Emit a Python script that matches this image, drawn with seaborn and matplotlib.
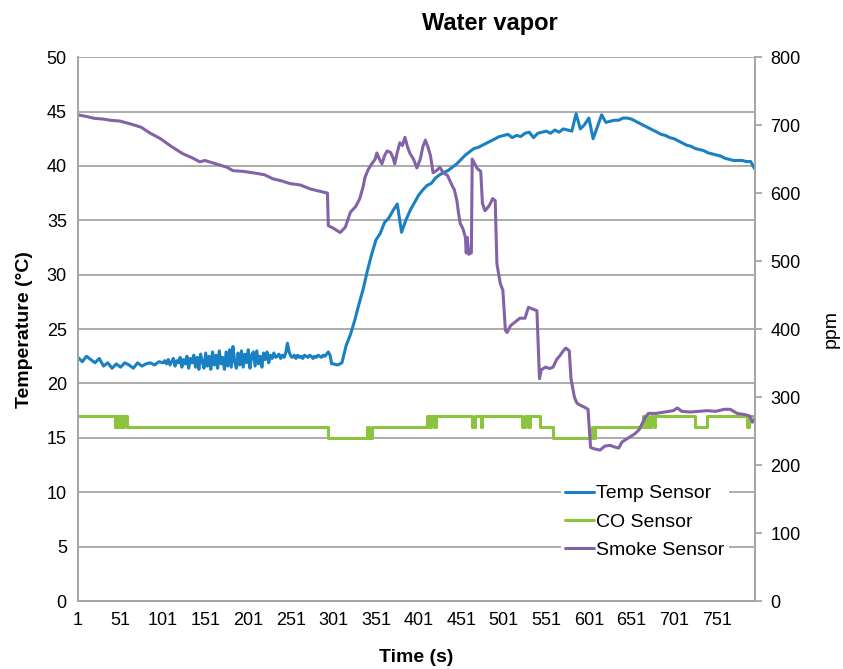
import numpy as np
import pandas as pd
import matplotlib
matplotlib.use("Agg")
import matplotlib.pyplot as plt
import seaborn as sns

# --- datos ---
# temperatura (°C): cada 5 s hasta 96, cada 2 s en el tramo ruidoso, cada 5 s desde 301
temp_t = np.concatenate([np.arange(1, 100, 5), np.arange(101, 300, 2), np.arange(301, 797, 5)])
temp_c = [
    # t 1..96
    22.4, 22.0, 22.5, 22.2, 21.9, 22.3, 21.6, 21.9, 21.4, 21.8,
    21.5, 21.9, 21.7, 21.4, 21.9, 21.6, 21.8, 21.9, 21.7, 22.0,
    # t 101..299
    21.9, 22.1, 21.8, 22.2, 21.7, 22.0, 22.3, 21.6, 22.1, 21.9,
    22.4, 21.5, 22.2, 21.8, 22.5, 21.4, 22.3, 21.9, 22.6, 21.5,
    22.4, 21.3, 22.7, 22.0, 21.4, 22.8, 21.6, 22.5, 21.3, 22.9,
    21.7, 22.6, 21.4, 23.0, 21.8, 22.4, 21.3, 22.9, 21.6, 23.1,
    21.5, 23.4, 22.0, 21.4, 22.8, 21.7, 23.0, 21.5, 22.7, 21.9,
    23.1, 21.4, 22.6, 22.9, 21.6, 23.0, 21.8, 22.5, 21.5, 22.8,
    22.2, 22.9, 21.9, 22.6, 22.3, 22.8, 22.4, 22.5, 22.7, 22.3,
    22.6, 22.4, 22.8, 23.7, 22.9, 22.5, 22.4, 22.6, 22.3, 22.6,
    22.4, 22.5, 22.3, 22.6, 22.5, 22.4, 22.6, 22.5, 22.3, 22.5,
    22.4, 22.6, 22.5, 22.4, 22.6, 22.5, 22.7, 22.9, 22.6, 21.8,
    # t 301..796
    21.8, 21.7, 21.9, 23.5, 24.5, 25.8, 27.3, 28.7, 30.4, 31.9,
    33.2, 33.8, 34.8, 35.2, 35.9, 36.5, 33.9, 35.0, 35.9, 36.6,
    37.3, 37.8, 38.2, 38.4, 38.9, 39.2, 39.4, 39.6, 39.9, 40.2,
    40.6, 41.0, 41.3, 41.6, 41.7, 41.9, 42.1, 42.3, 42.5, 42.7,
    42.8, 42.9, 42.6, 42.8, 42.7, 43.0, 43.1, 42.6, 43.0, 43.1,
    43.2, 43.0, 43.3, 43.1, 43.4, 43.3, 43.2, 44.8, 43.4, 43.8,
    44.4, 42.5, 43.6, 44.7, 44.0, 44.1, 44.2, 44.2, 44.4, 44.4,
    44.3, 44.1, 43.9, 43.7, 43.5, 43.3, 43.1, 42.9, 42.8, 42.6,
    42.5, 42.3, 42.1, 41.9, 41.8, 41.6, 41.5, 41.4, 41.2, 41.1,
    41.0, 40.9, 40.7, 40.6, 40.5, 40.5, 40.5, 40.4, 40.4, 39.7,
]

# sensor CO: instantes de cambio y valor (escala izquierda)
co_t = [1, 44, 46, 48, 50, 53, 55, 58, 62, 295, 341, 343, 346, 411, 413, 416,
        419, 422, 464, 467, 474, 476, 523, 526, 530, 532, 544, 559, 605, 606,
        608, 664, 666, 669, 671, 674, 677, 679, 726, 740, 787, 789, 796]
co_v = [17, 16, 17, 16, 17, 16, 17, 16, 16, 15, 16, 15, 16, 17, 16, 17,
        16, 17, 16, 17, 16, 17, 16, 17, 16, 17, 16, 15, 16, 15,
        16, 17, 16, 17, 16, 17, 16, 17, 16, 17, 16, 17, 17]

# sensor de humo (ppm, escala derecha)
smoke_t = [1, 10, 20, 30, 40, 50, 62, 75, 86, 98, 109, 124, 135, 144, 150,
           168, 176, 183, 195, 211, 220, 230, 240, 250, 262, 274, 284, 294,
           295, 300, 309, 315, 321, 327, 332, 336, 338, 342, 346, 350, 352,
           355, 358, 361, 364, 368, 371, 373, 376, 379, 382, 385, 388, 391,
           395, 399, 403, 406, 409, 412, 415, 418, 422, 426, 430, 435, 440,
           443, 446, 448, 450, 453, 456, 457, 458, 460, 462, 463, 464, 470,
           474, 476, 479, 483, 485, 488, 491, 493, 497, 500, 503, 505, 509,
           512, 516, 520, 526, 530, 534, 540, 543, 545, 550, 555, 559, 563,
           567, 571, 574, 578, 580, 584, 587, 591, 596, 600, 603, 607, 614,
           620, 626, 630, 636, 640, 645, 650, 655, 660, 664, 667, 671, 680,
           690, 700, 705, 710, 720, 730, 740, 750, 760, 767, 775, 785, 790,
           793, 796]
smoke_ppm = [715, 713, 710, 709, 707, 706, 702, 697, 688, 680, 670, 658, 652,
             646, 648, 641, 638, 633, 632, 629, 627, 621, 618, 614, 612, 606,
             603, 600, 552, 549, 542, 550, 572, 580, 592, 610, 623, 635, 643,
             650, 659, 650, 643, 655, 662, 660, 652, 643, 660, 674, 670, 682,
             668, 658, 650, 637, 650, 668, 678, 668, 655, 630, 633, 638, 630,
             626, 612, 605, 589, 570, 555, 548, 535, 512, 535, 510, 512, 512,
             650, 636, 632, 585, 574, 580, 584, 592, 589, 496, 467, 457, 398,
             395, 405, 408, 412, 416, 416, 432, 430, 427, 327, 340, 344, 342,
             344, 355, 361, 368, 372, 368, 327, 300, 291, 288, 285, 282, 226,
             224, 222, 228, 229, 227, 225, 234, 238, 242, 246, 252, 262, 270,
             276, 276, 278, 280, 284, 279, 278, 279, 280, 279, 282, 282, 276,
             274, 272, 263, 268]

xtick_vals = list(range(1, 752, 50))

df_temp = pd.DataFrame({'t': temp_t, 'v': temp_c})
df_co = pd.DataFrame({'t': co_t, 'v': co_v})
df_smoke = pd.DataFrame({'t': smoke_t, 'v': smoke_ppm})

# --- grafico ---
sns.set_style("white")
plt.rcParams['font.family'] = ['Liberation Sans', 'DejaVu Sans']
plt.rcParams['text.color'] = 'black'
plt.rcParams['axes.labelcolor'] = 'black'
plt.rcParams['xtick.color'] = 'black'
plt.rcParams['ytick.color'] = 'black'

c_temp = '#1a80c4'
c_co = '#8cc43f'
c_smoke = '#8462a8'
c_grid = '#a6a6a6'

fig = plt.figure(figsize=(8.43, 6.69), dpi=100)
ax = fig.add_axes([0.0925, 0.1016, 0.803, 0.813])
ax2 = ax.twinx()

sns.lineplot(data=df_temp, x='t', y='v', ax=ax, color=c_temp, lw=2.2, label='Temp Sensor', legend=False)
sns.lineplot(data=df_co, x='t', y='v', ax=ax, color=c_co, lw=2.2, drawstyle='steps-post',
             label='CO Sensor', legend=False)
sns.lineplot(data=df_smoke, x='t', y='v', ax=ax2, color=c_smoke, lw=2.2, label='Smoke Sensor', legend=False)

ax.set_xlim(1, 796)
ax.set_ylim(0, 50)
ax2.set_ylim(0, 800)
ax.set_yticks(np.arange(0, 51, 5))
ax2.set_yticks(np.arange(0, 801, 100))
ax.set_xticks(xtick_vals)
ax.set_xticklabels([str(v) for v in xtick_vals])

ax.grid(axis='y', color=c_grid, lw=1.3)
ax.grid(axis='x', visible=False)
ax2.grid(False)
ax.set_axisbelow(True)

for a in (ax, ax2):
    a.spines['top'].set_visible(False)
    for s in ('left', 'right', 'bottom'):
        a.spines[s].set_color(c_grid)
        a.spines[s].set_linewidth(1.3)

ax.tick_params(axis='both', length=0, labelsize=13, pad=8, labelcolor='black')
ax2.tick_params(axis='y', length=5, width=1.3, color=c_grid, labelsize=13, pad=6, labelcolor='black')

ax.set_xlabel('Time (s)', fontsize=14, fontweight='bold', labelpad=14)
ax.set_ylabel('Temperature (°C)', fontsize=14, fontweight='bold', labelpad=10)
ax2.set_ylabel('ppm', fontsize=14, labelpad=16)
fig.text(0.581, 0.965, 'Water vapor', fontsize=17, fontweight='bold', ha='center', va='center')

h1, l1 = ax.get_legend_handles_labels()
h2, l2 = ax2.get_legend_handles_labels()
leg = ax2.legend(h1 + h2, l1 + l2, loc='upper left', bbox_to_anchor=(0.714, 0.221),
                 frameon=True, fancybox=False, framealpha=1, facecolor='white',
                 edgecolor='none', handlelength=1.5, handletextpad=0.1,
                 labelspacing=0.55, borderpad=0.2, borderaxespad=0,
                 prop={'family': 'Liberation Sans', 'size': 14})

fig.savefig('out.png', dpi=100)
